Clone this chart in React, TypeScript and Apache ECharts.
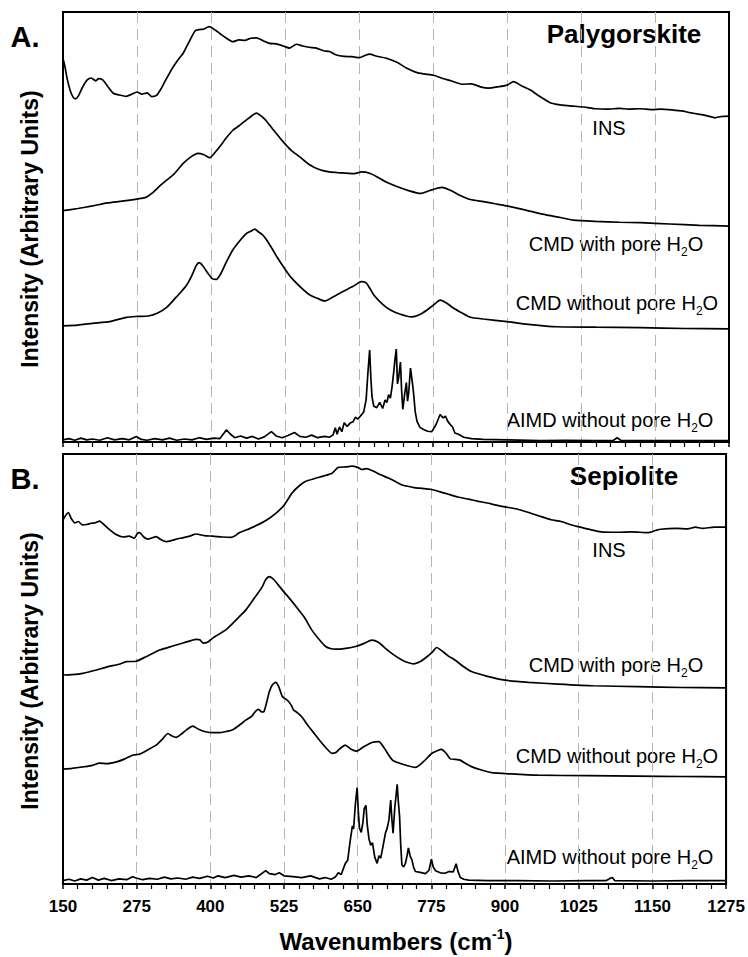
import React, { useEffect, useRef } from "react";
import * as echarts from "echarts";

const FONT = '"Liberation Sans", Arial, Helvetica, sans-serif';
const X_MIN = 150;
const X_MAX = 1275;
const X_STEP = 125;

// ---------- Panel A: Palygorskite (values are stacked display intensities, 0-100) ----------
const palyINS: [number, number][] = [
  [150, 89.2], [153, 87.5], [157, 84.5], [162, 81.8], [167, 80.2], [171, 79.8], [176, 80.5], [183, 82.5], [191, 84.2], [198, 84.6],
  [205, 84.0], [210, 84.5], [217, 84.2], [225, 82.8], [235, 81.1], [245, 80.7], [257, 80.4], [265, 80.8], [275, 81.4], [283, 80.9],
  [292, 81.2], [300, 80.3], [308, 80.6], [315, 82.0], [322, 83.8], [330, 85.8], [336, 87.2], [345, 89.0], [353, 90.4], [362, 92.8],
  [373, 95.6], [380, 95.9], [387, 96.0], [397, 96.6], [405, 96.0], [415, 95.0], [425, 94.0], [437, 93.1], [447, 93.5], [457, 93.4],
  [467, 93.9], [477, 94.0], [488, 93.3], [499, 92.7], [510, 92.6], [522, 92.1], [533, 91.6], [544, 92.5], [555, 92.1], [566, 91.8],
  [578, 91.6], [590, 91.0], [600, 90.8], [612, 90.0], [625, 89.7], [638, 89.6], [651, 89.4], [660, 89.9], [668, 90.2], [680, 89.7],
  [695, 89.3], [714, 88.3], [730, 87.0], [748, 85.9], [760, 85.6], [776, 85.3], [790, 84.6], [805, 84.0], [824, 83.2], [840, 83.3],
  [855, 82.6], [869, 82.3], [885, 82.6], [900, 83.0], [911, 83.8], [925, 82.8], [939, 81.9], [955, 80.4], [973, 78.9], [990, 78.4],
  [1012, 78.1], [1030, 77.9], [1050, 77.5], [1069, 77.4], [1090, 77.6], [1105, 77.4], [1125, 77.5], [1145, 77.3], [1160, 77.4], [1181, 77.2],
  [1195, 77.0], [1209, 76.6], [1225, 76.2], [1240, 75.8], [1251, 75.4], [1262, 75.7], [1275, 75.8],
];

const palyCMDWith: [number, number][] = [
  [150, 53.8], [175, 54.3], [200, 54.9], [225, 55.6], [250, 56.0], [275, 56.5], [290, 56.9], [300, 57.8], [314, 59.6], [325, 60.9],
  [336, 62.1], [345, 63.5], [353, 64.8], [365, 66.2], [378, 67.1], [388, 66.8], [398, 66.1], [406, 67.2], [415, 68.7], [425, 70.6],
  [437, 72.5], [448, 73.6], [460, 74.9], [470, 76.0], [477, 76.5], [485, 75.8], [492, 74.9], [499, 73.7], [510, 71.8], [522, 69.8],
  [535, 67.9], [550, 66.3], [565, 64.6], [584, 63.3], [600, 62.8], [617, 62.6], [640, 62.4], [655, 62.8], [668, 62.5], [680, 61.7],
  [695, 60.5], [714, 59.4], [735, 58.4], [754, 57.8], [770, 58.5], [790, 59.2], [805, 58.5], [820, 57.4], [838, 56.4], [860, 55.9],
  [880, 55.4], [900, 54.9], [930, 54.0], [960, 53.0], [990, 52.2], [1012, 51.6], [1050, 51.3], [1090, 51.1], [1125, 51.0], [1175, 50.7],
  [1225, 50.4], [1275, 50.2],
];

const palyCMDWithout: [number, number][] = [
  [150, 27.0], [175, 27.2], [200, 27.6], [229, 28.0], [257, 29.0], [275, 29.2], [294, 29.3], [310, 30.0], [325, 31.3], [340, 33.5],
  [350, 35.0], [359, 36.5], [367, 38.5], [375, 41.0], [380, 41.7], [386, 41.0], [395, 39.2], [402, 38.0], [409, 37.8], [416, 39.0],
  [425, 41.6], [437, 44.7], [448, 46.7], [460, 48.5], [467, 49.0], [474, 49.5], [480, 48.9], [487, 48.2], [494, 47.0], [503, 45.0],
  [512, 42.9], [522, 40.8], [530, 39.2], [539, 37.7], [553, 35.8], [567, 34.2], [580, 33.4], [592, 32.8], [607, 33.8], [623, 35.0],
  [640, 36.2], [654, 37.3], [662, 37.0], [668, 35.8], [675, 34.2], [690, 32.0], [703, 30.7], [720, 29.7], [739, 29.1], [752, 29.6],
  [765, 30.7], [777, 32.0], [787, 33.0], [797, 32.4], [810, 31.1], [824, 30.0], [838, 29.0], [860, 28.6], [900, 28.0], [940, 27.3],
  [984, 26.8], [1050, 26.7], [1125, 26.6], [1200, 26.4], [1275, 26.3],
];

const palyAIMD: [number, number][] = [
  [150, 0.5], [160, 0.8], [170, 0.4], [180, 0.9], [190, 0.5], [200, 0.7], [212, 0.4], [225, 1.0], [237, 0.5], [250, 0.8],
  [262, 0.5], [274, 1.3], [282, 0.6], [292, 0.4], [305, 0.8], [318, 0.5], [330, 0.9], [342, 0.4], [355, 0.7], [368, 0.5],
  [380, 1.0], [392, 0.6], [405, 0.9], [415, 0.8], [426, 2.8], [433, 1.8], [440, 1.0], [450, 1.4], [460, 0.9], [470, 1.3],
  [480, 0.7], [490, 1.2], [502, 2.4], [510, 1.4], [520, 1.0], [530, 1.5], [541, 2.2], [550, 1.3], [560, 1.1], [570, 1.6],
  [580, 1.0], [592, 1.3], [600, 1.1], [606, 1.6], [610, 3.3], [613, 1.8], [617, 3.5], [621, 2.4], [625, 4.5], [630, 3.6],
  [635, 4.4], [640, 4.7], [644, 5.8], [648, 5.3], [654, 6.3], [658, 7.0], [662, 9.8], [665, 16.0], [668, 21.4], [670, 15.0],
  [672, 10.5], [675, 8.3], [680, 8.0], [685, 9.2], [690, 7.8], [694, 9.8], [697, 9.2], [700, 11.0], [703, 10.2], [706, 13.0],
  [709, 16.7], [711, 19.5], [713, 21.6], [715, 13.5], [717, 15.0], [720, 18.6], [722, 12.0], [724, 7.6], [727, 11.0], [730, 13.8],
  [732, 9.5], [734, 11.5], [737, 17.2], [740, 14.0], [742, 11.6], [745, 7.0], [748, 4.8], [753, 3.4], [759, 2.9], [766, 2.5],
  [773, 2.4], [780, 4.0], [787, 6.4], [792, 5.6], [796, 6.0], [800, 4.8], [804, 4.1], [808, 3.5], [812, 2.1], [818, 1.8],
  [827, 1.1], [840, 0.8], [860, 0.6], [900, 0.5], [956, 0.3], [1000, 0.4], [1050, 0.3], [1080, 0.4], [1086, 1.0], [1092, 0.4],
  [1150, 0.3], [1275, 0.3],
];

// ---------- Panel B: Sepiolite ----------
const sepINS: [number, number][] = [
  [150, 84.7], [155, 85.8], [159, 86.4], [164, 85.0], [170, 84.0], [176, 84.3], [183, 83.5], [190, 83.6], [198, 83.9], [205, 84.0],
  [212, 84.4], [220, 83.5], [230, 82.3], [241, 81.2], [252, 80.7], [262, 80.9], [271, 80.4], [276, 81.5], [280, 81.7], [287, 80.7],
  [294, 80.2], [301, 80.5], [308, 80.8], [316, 80.1], [325, 79.6], [335, 79.9], [345, 80.3], [353, 80.5], [365, 80.9], [376, 81.4],
  [390, 81.0], [404, 80.9], [420, 80.7], [435, 80.6], [442, 81.0], [449, 81.7], [462, 82.4], [477, 83.3], [495, 84.6], [511, 86.2],
  [525, 88.1], [539, 91.0], [550, 92.5], [561, 93.6], [577, 94.3], [595, 95.0], [607, 95.6], [617, 96.9], [630, 97.0], [640, 97.2],
  [650, 96.9], [657, 96.4], [665, 96.6], [675, 96.1], [690, 95.1], [702, 94.4], [714, 93.6], [725, 92.8], [731, 92.6], [745, 92.2],
  [760, 92.0], [773, 91.8], [790, 91.2], [805, 90.6], [820, 90.0], [838, 89.5], [855, 89.0], [870, 88.6], [885, 88.1], [900, 87.7],
  [920, 87.2], [940, 86.4], [960, 85.5], [978, 84.7], [995, 84.3], [1010, 83.6], [1024, 83.1], [1045, 82.4], [1063, 81.9], [1090, 81.8],
  [1115, 81.9], [1142, 81.7], [1155, 82.2], [1164, 82.5], [1190, 82.7], [1210, 82.6], [1223, 83.0], [1235, 82.7], [1255, 83.0], [1275, 83.0],
];

const sepCMDWith: [number, number][] = [
  [150, 48.6], [165, 48.7], [184, 49.0], [205, 49.7], [225, 50.5], [245, 51.1], [257, 51.7], [274, 51.8], [290, 52.8], [314, 54.4],
  [335, 55.3], [355, 56.1], [376, 56.9], [382, 56.8], [388, 56.0], [395, 56.2], [405, 57.3], [426, 59.1], [440, 60.9], [450, 62.3],
  [460, 63.7], [470, 65.6], [480, 67.5], [488, 69.1], [494, 70.8], [500, 71.5], [506, 71.0], [512, 70.1], [522, 68.4], [535, 66.3],
  [550, 63.7], [560, 61.9], [572, 59.1], [585, 56.8], [595, 55.3], [605, 54.7], [612, 54.6], [630, 54.8], [648, 55.3], [660, 55.9],
  [674, 56.7], [685, 56.2], [697, 54.8], [710, 53.4], [725, 52.1], [735, 51.5], [745, 51.2], [757, 51.8], [768, 52.9], [777, 54.0],
  [784, 55.0], [792, 54.3], [804, 53.0], [815, 52.1], [828, 50.7], [843, 49.4], [870, 48.3], [900, 47.4], [940, 46.9], [990, 46.5],
  [1050, 46.1], [1125, 45.9], [1200, 45.7], [1275, 45.6],
];

const sepCMDWithout: [number, number][] = [
  [150, 26.7], [165, 26.9], [187, 27.3], [200, 27.6], [212, 28.1], [225, 28.0], [241, 28.4], [255, 29.1], [269, 30.0], [280, 30.2],
  [295, 31.3], [308, 32.3], [318, 33.6], [328, 35.0], [335, 34.4], [342, 34.1], [350, 34.8], [360, 35.9], [370, 36.7], [380, 36.0],
  [392, 35.4], [405, 35.2], [415, 35.2], [425, 35.4], [437, 35.8], [448, 36.8], [460, 38.1], [470, 39.0], [477, 40.2], [482, 40.6],
  [487, 40.0], [491, 40.1], [496, 42.5], [500, 44.7], [505, 46.3], [511, 46.9], [516, 45.9], [522, 43.6], [528, 43.0], [533, 42.4],
  [538, 41.4], [541, 40.5], [548, 39.8], [555, 38.9], [565, 37.0], [578, 34.7], [590, 32.6], [600, 31.1], [606, 30.4], [613, 30.6],
  [620, 31.5], [629, 32.3], [638, 31.4], [648, 30.9], [660, 31.9], [674, 32.9], [686, 33.1], [695, 31.6], [709, 28.8], [725, 27.9],
  [748, 27.1], [762, 28.5], [776, 30.4], [785, 31.0], [792, 31.3], [800, 30.4], [807, 29.1], [815, 29.0], [824, 28.8], [833, 28.0],
  [843, 27.3], [860, 26.5], [877, 25.9], [910, 25.6], [956, 25.3], [1040, 25.2], [1125, 25.1], [1200, 25.0], [1275, 24.9],
];

const sepAIMD: [number, number][] = [
  [150, 0.8], [160, 1.1], [170, 0.7], [180, 1.2], [190, 0.9], [200, 1.5], [210, 0.9], [220, 1.3], [232, 0.8], [245, 1.2],
  [258, 1.0], [268, 1.7], [274, 1.4], [285, 1.0], [297, 1.3], [310, 1.1], [322, 1.6], [333, 1.2], [345, 1.4], [358, 1.1],
  [370, 1.6], [382, 1.3], [395, 1.8], [405, 1.4], [413, 1.9], [425, 1.5], [440, 2.0], [452, 1.6], [465, 1.9], [478, 1.5],
  [494, 3.1], [500, 2.4], [510, 2.2], [517, 2.6], [525, 1.9], [540, 1.7], [555, 1.5], [570, 1.9], [585, 1.2], [595, 1.5],
  [605, 1.1], [612, 1.6], [617, 2.6], [622, 2.2], [629, 4.8], [633, 5.5], [637, 9.8], [641, 13.5], [643, 12.8], [646, 18.5],
  [649, 22.4], [651, 17.0], [653, 13.0], [656, 12.0], [659, 14.5], [661, 17.5], [664, 18.3], [666, 14.0], [669, 10.6], [672, 9.0],
  [675, 9.6], [679, 6.2], [683, 4.8], [686, 6.6], [689, 6.0], [693, 8.8], [697, 11.8], [700, 13.0], [703, 14.9], [706, 19.5],
  [708, 15.0], [710, 11.8], [713, 17.9], [715, 20.5], [717, 23.2], [719, 19.0], [721, 15.8], [723, 9.0], [725, 4.4], [728, 4.0],
  [731, 4.8], [734, 6.8], [736, 8.4], [739, 6.5], [742, 5.6], [745, 3.8], [748, 2.9], [756, 2.7], [765, 2.4], [771, 3.2],
  [775, 5.8], [778, 4.0], [782, 3.1], [790, 2.6], [798, 2.5], [805, 2.9], [812, 2.8], [817, 4.7], [820, 3.0], [824, 1.5],
  [830, 1.1], [838, 0.9], [870, 0.8], [920, 0.8], [980, 0.7], [1040, 0.8], [1072, 0.8], [1078, 1.3], [1082, 1.5], [1086, 0.8],
  [1150, 0.7], [1210, 0.8], [1275, 0.8],
];

const panelTitles = ["Palygorskite", "Sepiolite"];
const panelLetters = ["A.", "B."];
const curveLabels = ["INS", "CMD with pore H{sub|2}O", "CMD without pore H{sub|2}O", "AIMD without pore H{sub|2}O"];
const panelSeries = [
  [palyINS, palyCMDWith, palyCMDWithout, palyAIMD],
  [sepINS, sepCMDWith, sepCMDWithout, sepAIMD],
];

export default function App() {
  const ref = useRef<HTMLDivElement>(null);
  useEffect(() => {
    if (!ref.current) return;
    const chart = echarts.init(ref.current, undefined, { renderer: "svg" });

    const grids = [
      { left: 63, top: 12, width: 666, height: 430 },
      { left: 63, top: 454, width: 666, height: 430 },
    ];

    const xAxes: any[] = [];
    const yAxes: any[] = [];
    const series: any[] = [];
    grids.forEach((_, i) => {
      xAxes.push({
        gridIndex: i,
        type: "value",
        min: 0,
        max: X_MAX - X_MIN,
        interval: X_STEP,
        axisLine: { show: true, onZero: false, lineStyle: { color: "#000", width: 2 } },
        axisTick: { show: true, inside: false, length: 5, lineStyle: { color: "#000", width: 1.5 } },
        minorTick: { show: true, splitNumber: 5, length: 5, lineStyle: { color: "#000", width: 1.2 } },
        axisLabel: {
          show: i === 1,
          margin: 14,
          formatter: (v: number) => String(v + X_MIN),
          fontSize: 17,
          fontWeight: "bold",
          color: "#000",
          fontFamily: FONT,
        },
        splitLine: { show: true, lineStyle: { color: "#b5b5b5", type: [11, 6], width: 1 } },
      });
      ["left", "right"].forEach((pos) => {
        yAxes.push({
          gridIndex: i,
          type: "value",
          position: pos,
          min: 0,
          max: 100,
          z: 5,
          axisLine: { show: true, onZero: false, lineStyle: { color: "#000", width: 2 } },
          axisTick: { show: false },
          axisLabel: { show: false },
          splitLine: { show: false },
        });
      });
      panelSeries[i].forEach((data, k) => {
        series.push({
          type: "line",
          xAxisIndex: i,
          yAxisIndex: i * 2,
          data: data.map(([w, v]) => [w - X_MIN, v]),
          showSymbol: false,
          symbol: "none",
          smooth: k === 3 ? false : 0.2,
          lineStyle: { color: "#000", width: 1.7 },
          z: 3,
          silent: true,
        });
      });
    });

    const labelPos = [
      [[609, 128], [616, 244], [617, 303], [610, 420]],
      [[609, 550], [616, 665], [617, 756], [610, 857]],
    ];

    const graphic: any[] = [];
    [0, 1].forEach((i) => {
      const top = grids[i].top;
      graphic.push({
        type: "text",
        x: 25,
        y: top + 25,
        style: { text: panelLetters[i], font: `bold 29px ${FONT}`, fill: "#000", align: "center", verticalAlign: "middle" },
      });
      graphic.push({
        type: "text",
        x: 624,
        y: top + 22,
        style: { text: panelTitles[i], font: `bold 26px ${FONT}`, fill: "#000", align: "center", verticalAlign: "middle" },
      });
      graphic.push({
        type: "text",
        x: 30,
        y: top + 217,
        rotation: Math.PI / 2,
        style: {
          text: "Intensity (Arbitrary Units)",
          font: `bold 23px ${FONT}`,
          fill: "#000",
          align: "center",
          verticalAlign: "middle",
        },
      });
      curveLabels.forEach((t, k) => {
        const [x, y] = labelPos[i][k];
        graphic.push({
          type: "text",
          x,
          y,
          style: {
            text: t,
            fontSize: 20,
            fontFamily: FONT,
            lineHeight: 28,
            fill: "#000",
            align: "center",
            verticalAlign: "middle",
            rich: { sub: { fontSize: 12, fontFamily: FONT, verticalAlign: "bottom", fill: "#000" } },
          },
        });
      });
    });
    graphic.push({
      type: "text",
      x: 396,
      y: 941,
      style: {
        text: "Wavenumbers (cm{sup|-1})",
        fontSize: 24,
        fontWeight: "bold",
        fontFamily: FONT,
        lineHeight: 28,
        fill: "#000",
        align: "center",
        verticalAlign: "middle",
        rich: { sup: { fontSize: 14, fontWeight: "bold", fontFamily: FONT, verticalAlign: "top", fill: "#000" } },
      },
    });

    chart.setOption({
      animation: false,
      backgroundColor: "#fff",
      grid: grids.map((g) => ({ ...g, show: true, borderColor: "#000", borderWidth: 2, backgroundColor: "transparent" })),
      xAxis: xAxes,
      yAxis: yAxes,
      series,
      graphic,
    });
    return () => chart.dispose();
  }, []);

  return (
    <div
      ref={ref}
      style={{ position: "fixed", left: 0, top: 0, width: 748, height: 957, background: "#fff" }}
    />
  );
}
